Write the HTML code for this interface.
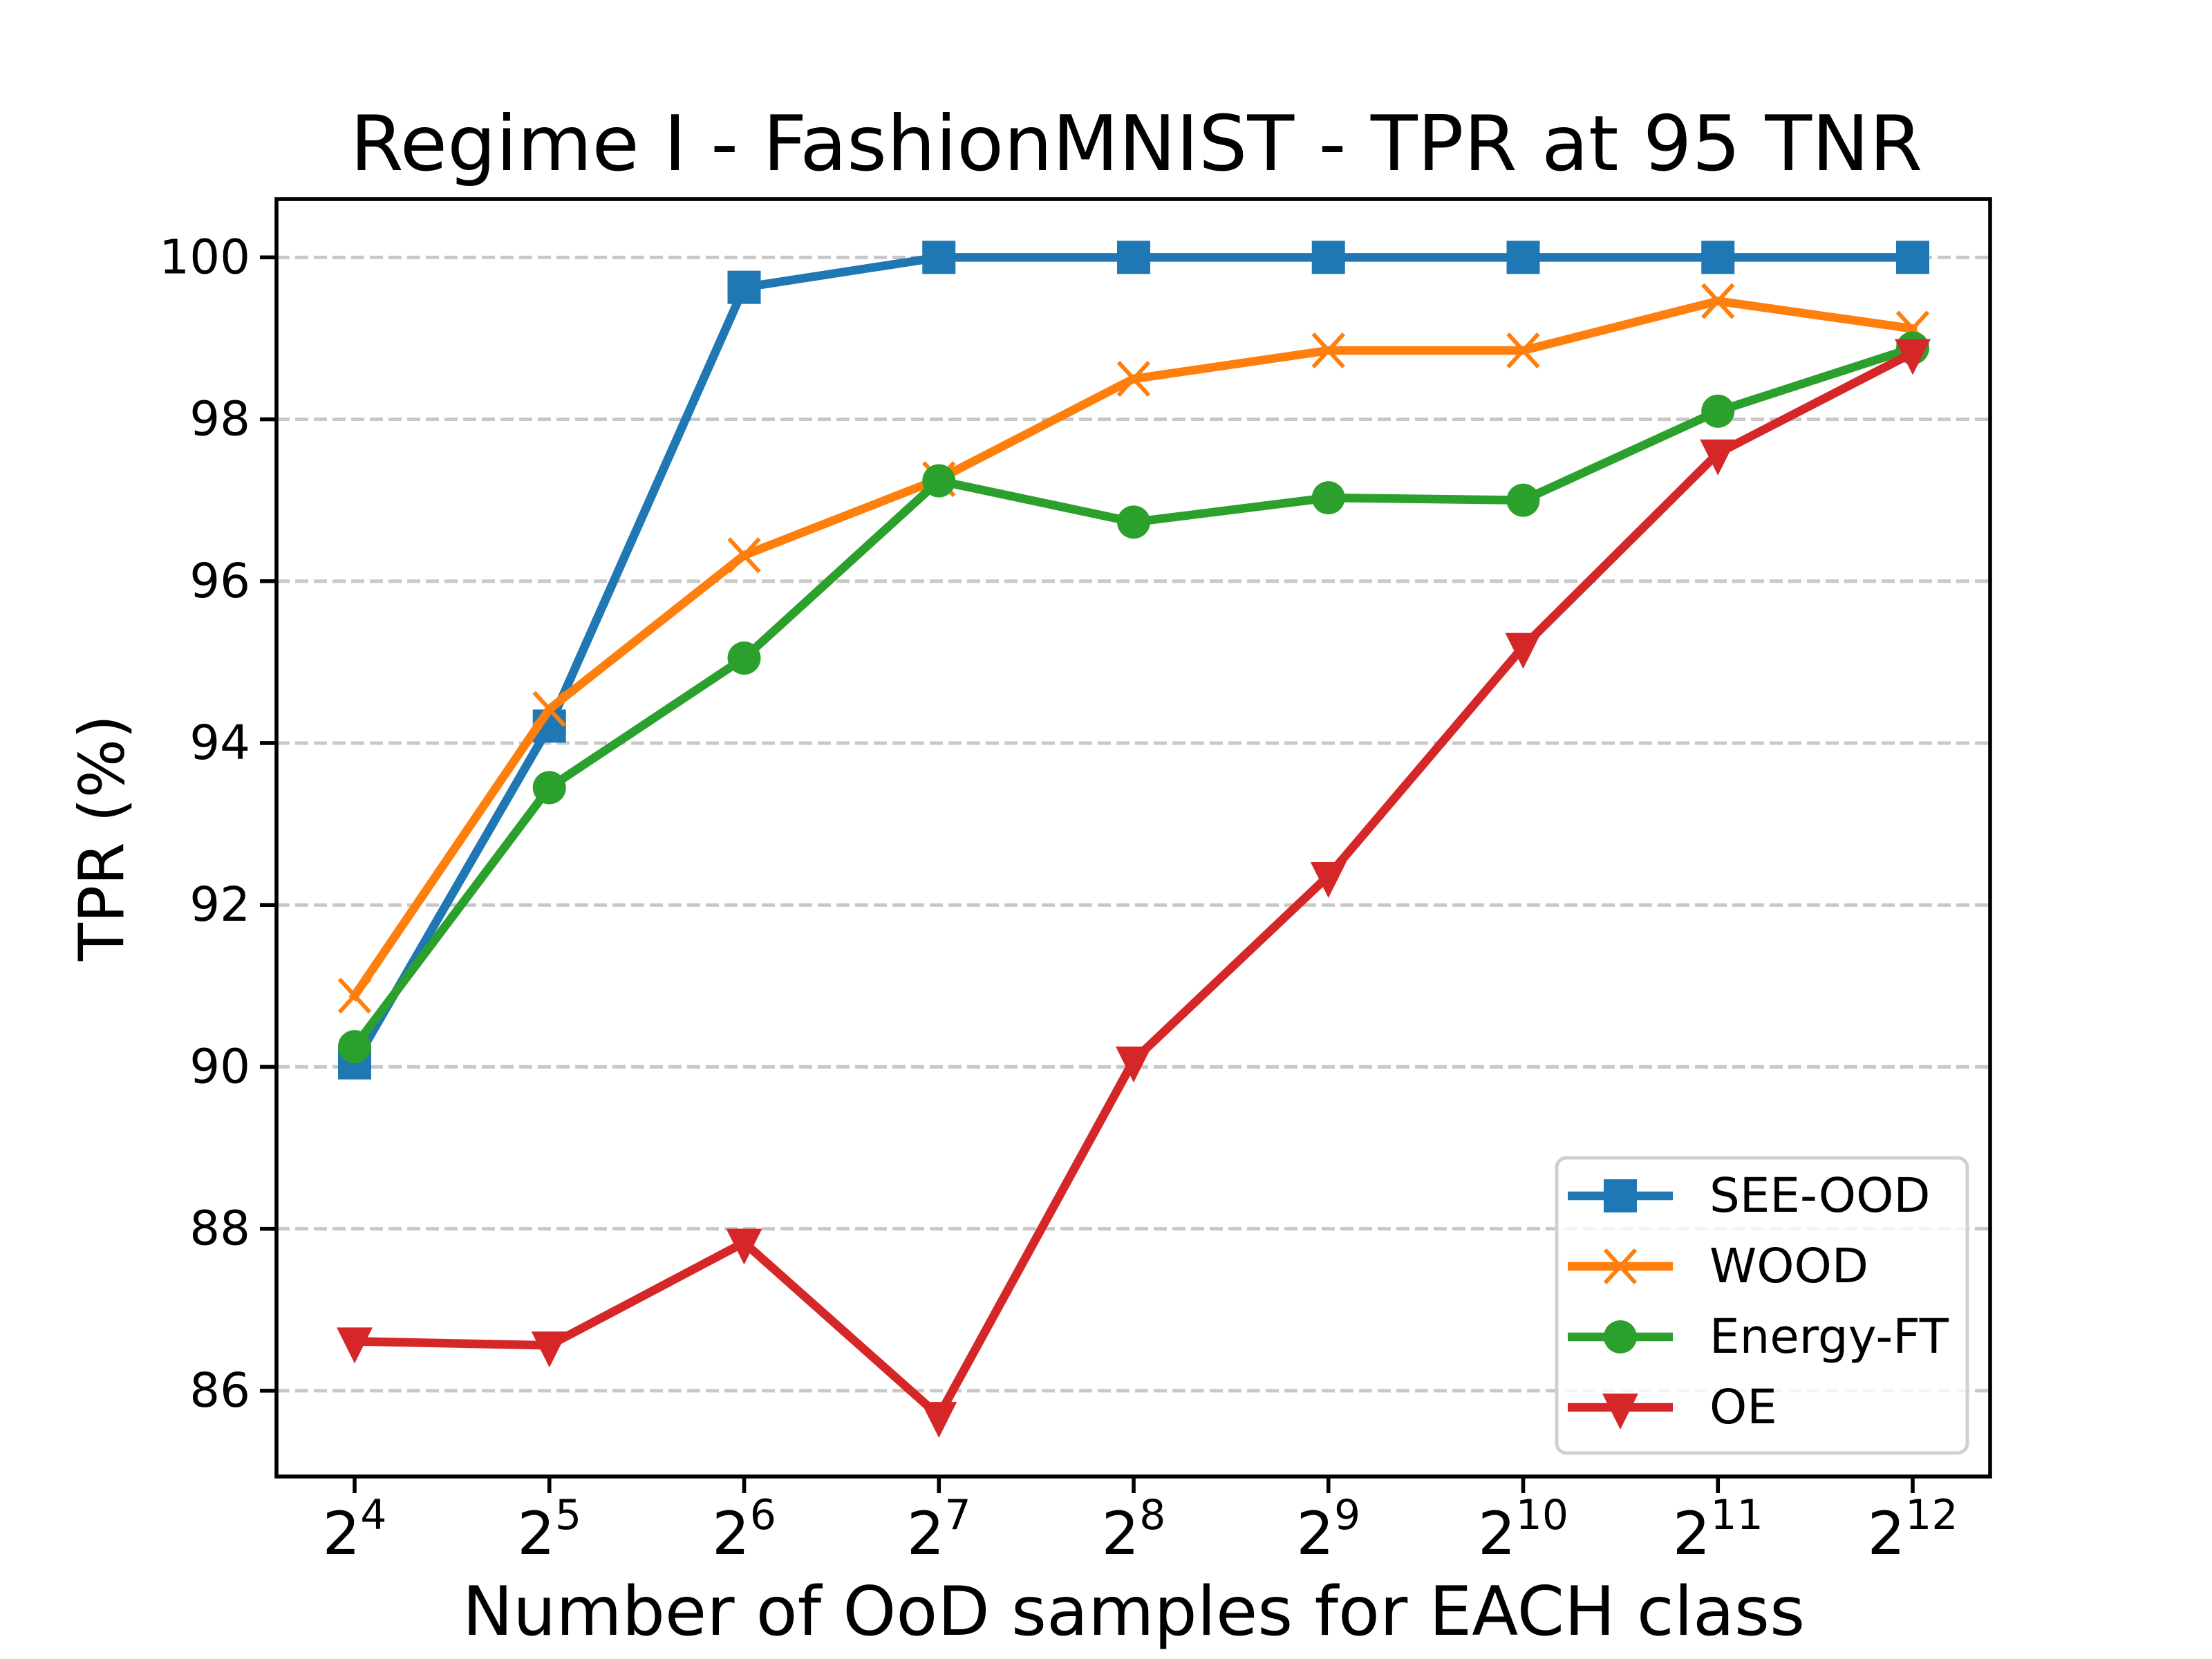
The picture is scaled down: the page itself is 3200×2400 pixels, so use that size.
<!DOCTYPE html>
<html><head><meta charset="utf-8"><style>
html,body{margin:0;padding:0;background:#fff}
svg{display:block;font-family:"DejaVu Sans","Liberation Sans",sans-serif}
</style></head><body>
<svg id="chart" width="3200" height="2400" viewBox="0 0 3200 2400" xmlns="http://www.w3.org/2000/svg">
<rect width="3200" height="2400" fill="#fff"/>
<text x="1644" y="246" font-size="111" text-anchor="middle">Regime I - FashionMNIST - TPR at 95 TNR</text>
<g id="grid"></g>
<g id="series"></g>
<rect x="400" y="288" width="2479" height="1848" fill="none" stroke="#000" stroke-width="5.6"/>
<g id="axes"></g>
<text x="1640" y="2365" font-size="98" text-anchor="middle">Number of OoD samples for EACH class</text>
<text transform="translate(148,1212) rotate(-90)" font-size="90" text-anchor="middle" dominant-baseline="central">TPR (%)</text>
<g id="legend"></g>
</svg>
<script>
const exponents = [4,5,6,7,8,9,10,11,12];
const yTicks = [86,88,90,92,94,96,98,100];
const seriesNames = ["SEE-OOD","WOOD","Energy-FT","OE"];
const seeOod = [90.05,94.21,99.63,100,100,100,100,100,100];
const wood = [90.88,94.42,96.32,97.26,98.5,98.85,98.85,99.46,99.12];
const energyFt = [90.25,93.45,95.05,97.24,96.73,97.03,97.0,98.1,98.88];
const oe = [86.61,86.56,87.83,85.69,90.08,92.36,95.19,97.58,98.82];

const NS="http://www.w3.org/2000/svg";
const L=400,R=2879,T=288,B=2136;
const yMin=84.94,yMax=100.72;
function xs(i){return 513+i*(2767-513)/(exponents.length-1);}
function ys(v){return B-(v-yMin)/(yMax-yMin)*(B-T);}
function mk(tag,attrs,parent){const e=document.createElementNS(NS,tag);for(const k in attrs)e.setAttribute(k,attrs[k]);parent.appendChild(e);return e;}
const grid=document.getElementById('grid'),axes=document.getElementById('axes'),ser=document.getElementById('series'),leg=document.getElementById('legend');

yTicks.forEach(v=>{
  const y=ys(v);
  const g=mk('line',{x1:L,x2:R,y1:y,y2:y,stroke:'#c8c8c8','stroke-width':5,'stroke-dasharray':'19 8'},grid);
  
  
  const t=mk('line',{x1:L-24,x2:L,y1:y,y2:y,stroke:'#000','stroke-width':5.6},axes);
  
  
  const lb=mk('text',{x:L-38,y:y,'font-size':69,'text-anchor':'end','dominant-baseline':'central'},axes);
  lb.textContent=v;
  
  
});
exponents.forEach((e,i)=>{
  const x=xs(i);
  const t=mk('line',{x1:x,x2:x,y1:B,y2:B+24,stroke:'#000','stroke-width':5.6},axes);
  
  
  const lb=mk('text',{x:x,y:2248,'font-size':86,'text-anchor':'middle'},axes);
  
  
  const s1=mk('tspan',{},lb);s1.textContent='2';
  const s2=mk('tspan',{'font-size':60,dy:-36},lb);s2.textContent=e;
});

const colors=["#1f77b4","#ff7f0e","#2ca02c","#d62728"];
const markers=["square","x","circle","tri"];
const allData=[seeOod,wood,energyFt,oe];
function marker(type,x,y,c,p){
  let m;
  if(type==='square') m=mk('rect',{x:x-24,y:y-24,width:48,height:48,fill:c},p);
  else if(type==='circle') m=mk('circle',{cx:x,cy:y,r:24,fill:c},p);
  else if(type==='tri') m=mk('polygon',{points:`${x-26},${y-20} ${x+26},${y-20} ${x},${y+32}`,fill:c},p);
  else m=mk('path',{d:`M${x-22},${y-24}L${x+22},${y+24}M${x+22},${y-24}L${x-22},${y+24}`,stroke:c,'stroke-width':6,fill:'none'},p);
  
  
}
allData.forEach((d,s)=>{
  const g=mk('g',{},ser);
  
  
  const pl=mk('polyline',{points:d.map((v,i)=>xs(i)+','+ys(v)).join(' '),fill:'none',stroke:colors[s],'stroke-width':12.5,'stroke-linejoin':'round','stroke-linecap':'square'},g);
  
  
  d.forEach((v,i)=>marker(markers[s],xs(i),ys(v),colors[s],g));
});

const box=mk('rect',{x:2252,y:1675,width:594,height:427,rx:14,fill:'#fff','fill-opacity':0.8,stroke:'#d0d0d0','stroke-width':5},leg);


seriesNames.forEach((n,s)=>{
  const y=1730+s*102;
  const g=mk('g',{},leg);
  
  
  mk('line',{x1:2268,x2:2420,y1:y,y2:y,stroke:colors[s],'stroke-width':12.5},g);
  marker(markers[s],2344,y,colors[s],g);
  const t=mk('text',{x:2473,y:y,'font-size':69,'dominant-baseline':'central'},g);
  t.textContent=n;
});
</script>
</body></html>
